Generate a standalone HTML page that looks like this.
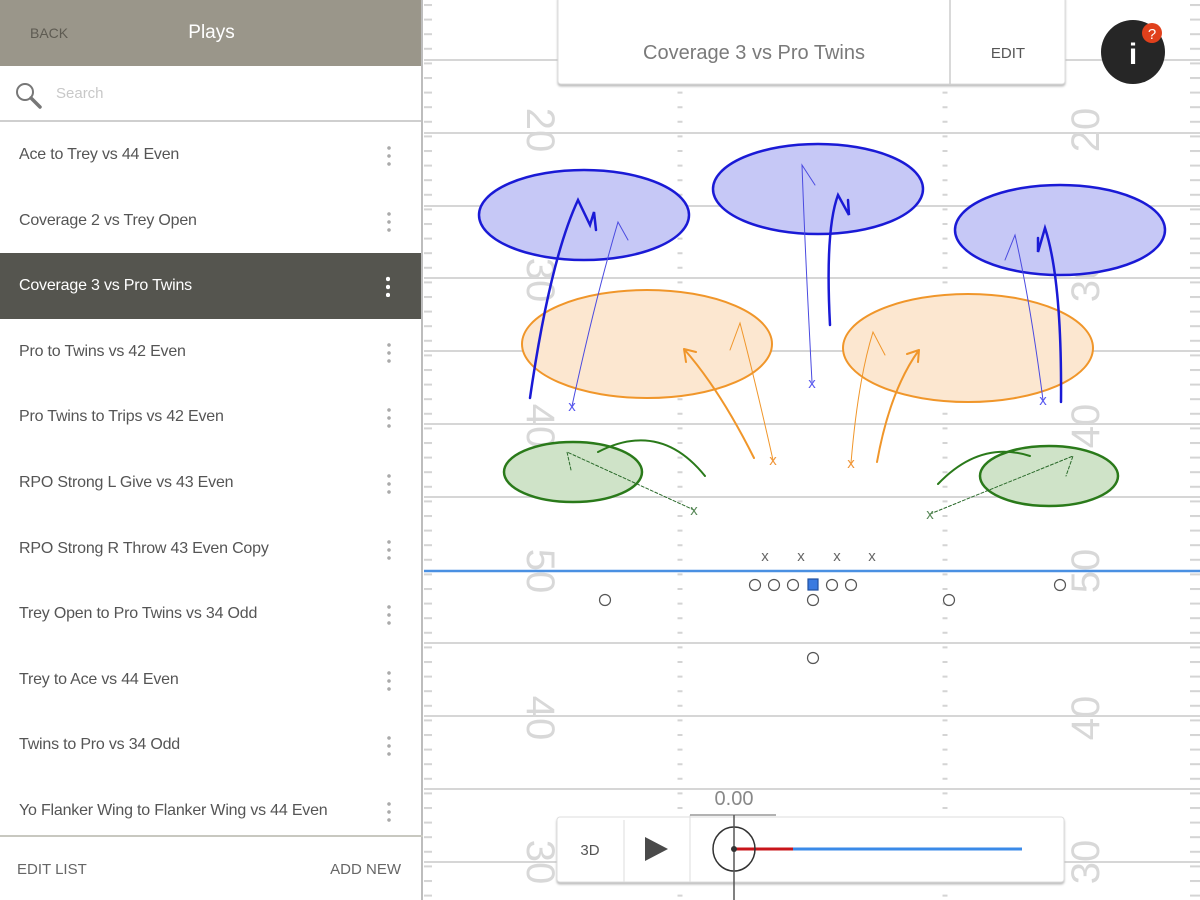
<!DOCTYPE html>
<html><head><meta charset="utf-8"><style>
*{margin:0;padding:0;box-sizing:border-box}
body{width:1200px;height:900px;overflow:hidden;background:#fff;font-family:"Liberation Sans",sans-serif;position:relative}
#side{position:absolute;left:0;top:0;width:423px;height:900px;background:#fff;border-right:2px solid #bdbdbd}
#hdr{height:66px;background:#9a968a;position:relative}
#hdr .back{position:absolute;left:30px;top:25px;font-size:14px;color:#5e5b52}
#hdr .title{position:absolute;left:0;width:423px;text-align:center;top:22px;font-size:19px;color:#fff}
#search{height:56px;border-bottom:2px solid #cfcfcf;position:relative}
#search .ph{position:absolute;left:56px;top:19px;font-size:15px;color:#c8c8c8}
.item{height:65.6px;position:relative;font-size:16px;color:#555;}
.item span{position:absolute;left:19px;top:24px;letter-spacing:-0.2px}
.item i{position:absolute;left:387px;top:22px;width:4px;height:22px;background:radial-gradient(circle,#aaa 1.6px,transparent 2px) 0 0/4px 8px repeat-y}
.item.sel{background:#55554f;color:#fff}
.item.sel i{background:radial-gradient(circle,#fff 2px,transparent 2.4px) 0 0/4px 8px repeat-y;left:386px;width:5px}
#foot{position:absolute;top:835px;left:0;width:423px;height:65px;border-top:2px solid #c8c8c0;font-size:15px;color:#666}
#foot .a{position:absolute;left:17px;top:24px}
#foot .b{position:absolute;right:22px;top:24px}
</style></head><body>
<svg style="position:absolute;left:0;top:0" width="1200" height="900">
<defs>
<pattern id="tk" width="10" height="14.6" patternUnits="userSpaceOnUse" y="4"><rect width="10" height="2" fill="#d4d4d4"/></pattern>
</defs>
<rect x="424" y="0" width="776" height="900" fill="#fff"/>
<g stroke="#d6d6d6" stroke-width="2">
<line x1="424" x2="1200" y1="60" y2="60"/><line x1="424" x2="1200" y1="133" y2="133"/><line x1="424" x2="1200" y1="206" y2="206"/><line x1="424" x2="1200" y1="278" y2="278"/><line x1="424" x2="1200" y1="351" y2="351"/><line x1="424" x2="1200" y1="424" y2="424"/><line x1="424" x2="1200" y1="497" y2="497"/><line x1="424" x2="1200" y1="643" y2="643"/><line x1="424" x2="1200" y1="716" y2="716"/><line x1="424" x2="1200" y1="789" y2="789"/><line x1="424" x2="1200" y1="862" y2="862"/>
</g>
<rect x="424" y="0" width="8" height="900" fill="url(#tk)"/>
<rect x="1190" y="0" width="10" height="900" fill="url(#tk)"/>
<line x1="680" y1="4" x2="680" y2="900" stroke="#d4d4d4" stroke-width="5" stroke-dasharray="2,12.6"/>
<line x1="945" y1="4" x2="945" y2="900" stroke="#d4d4d4" stroke-width="5" stroke-dasharray="2,12.6"/>
<line x1="424" x2="1200" y1="571" y2="571" stroke="#4a90e2" stroke-width="2.5"/>
<g font-family="Liberation Sans,sans-serif" font-size="40" fill="#d8d8d8" text-anchor="middle">
<text transform="translate(527,130) rotate(90)">20</text>
<text transform="translate(527,280) rotate(90)">30</text>
<text transform="translate(527,426) rotate(90)">40</text>
<text transform="translate(527,571) rotate(90)">50</text>
<text transform="translate(527,718) rotate(90)">40</text>
<text transform="translate(527,862) rotate(90)">30</text>
<text transform="translate(1099,130) rotate(-90)">20</text>
<text transform="translate(1099,280) rotate(-90)">30</text>
<text transform="translate(1099,426) rotate(-90)">40</text>
<text transform="translate(1099,571) rotate(-90)">50</text>
<text transform="translate(1099,718) rotate(-90)">40</text>
<text transform="translate(1099,862) rotate(-90)">30</text>
</g>
<g stroke-width="2.5">
<ellipse cx="584" cy="215" rx="105" ry="45" fill="#c6c8f6" stroke="#1a1ad6"/>
<ellipse cx="818" cy="189" rx="105" ry="45" fill="#c6c8f6" stroke="#1a1ad6"/>
<ellipse cx="1060" cy="230" rx="105" ry="45" fill="#c6c8f6" stroke="#1a1ad6"/>
<ellipse cx="647" cy="344" rx="125" ry="54" fill="#fce7d0" stroke="#f0962a" stroke-width="2"/>
<ellipse cx="968" cy="348" rx="125" ry="54" fill="#fce7d0" stroke="#f0962a" stroke-width="2"/>
<ellipse cx="573" cy="472" rx="69" ry="30" fill="#cfe3c8" stroke="#2a7a1a"/>
<ellipse cx="1049" cy="476" rx="69" ry="30" fill="#cfe3c8" stroke="#2a7a1a"/>
</g>
<g fill="none" stroke-linecap="round">
<path d="M530 398 Q550 260 578 200 L590 225 L594 212 L596 230" stroke="#1a1ad6" stroke-width="2.5"/>
<path d="M572 406 Q595 300 618 222 L628 240" stroke="#4a4ae0" stroke-width="1"/>
<path d="M812 382 Q805 250 802 165 L815 185" stroke="#4a4ae0" stroke-width="1"/>
<path d="M830 325 Q825 230 838 195 L849 215 L848 200" stroke="#1a1ad6" stroke-width="2.5"/>
<path d="M1043 400 Q1030 300 1015 235 L1005 260" stroke="#4a4ae0" stroke-width="1"/>
<path d="M1061 402 Q1062 280 1045 228 L1038 252 L1038 238" stroke="#1a1ad6" stroke-width="2.5"/>
<path d="M754 458 Q720 390 684 349 M684 349 L686 362 M684 349 L696 352" stroke="#f0962a" stroke-width="2"/>
<path d="M773 460 Q755 380 740 323 L730 350" stroke="#f0962a" stroke-width="1"/>
<path d="M851 463 Q858 380 873 332 L885 355" stroke="#f0962a" stroke-width="1"/>
<path d="M877 462 Q890 390 919 350 M919 350 L907 354 M919 350 L918 362" stroke="#f0962a" stroke-width="2"/>
<path d="M694 510 L567 452 L571 470" stroke="#2a6a2a" stroke-width="1" stroke-dasharray="3,2"/>
<path d="M598 452 Q660 420 705 476" stroke="#2a7a1a" stroke-width="2"/>
<path d="M930 514 L1073 456 L1066 476" stroke="#2a6a2a" stroke-width="1" stroke-dasharray="3,2"/>
<path d="M938 484 Q980 440 1030 456" stroke="#2a7a1a" stroke-width="2"/>
</g>
<g font-family="Liberation Sans,sans-serif" font-size="15" text-anchor="middle" fill="#5a5af0">
<text x="572" y="411">x</text><text x="812" y="388">x</text><text x="1043" y="405">x</text>
<text x="773" y="465" fill="#f0963a">x</text><text x="851" y="468" fill="#f0963a">x</text>
<text x="694" y="515" fill="#5a8a5a">x</text><text x="930" y="519" fill="#5a8a5a">x</text>
<g fill="#666"><text x="765" y="561">x</text><text x="801" y="561">x</text><text x="837" y="561">x</text><text x="872" y="561">x</text></g>
</g>
<g fill="#fff" stroke="#555" stroke-width="1.2">
<circle cx="755" cy="585" r="5.5"/><circle cx="774" cy="585" r="5.5"/><circle cx="793" cy="585" r="5.5"/><circle cx="832" cy="585" r="5.5"/><circle cx="851" cy="585" r="5.5"/><circle cx="1060" cy="585" r="5.5"/>
<circle cx="605" cy="600" r="5.5"/><circle cx="813" cy="600" r="5.5"/><circle cx="949" cy="600" r="5.5"/><circle cx="813" cy="658" r="5.5"/>
<rect x="808" y="579" width="10" height="11" fill="#3a7ae0" stroke="#2050a0"/>
</g>
<rect x="558" y="-5" width="507" height="89" rx="3" fill="#fff" stroke="#ddd" style="filter:drop-shadow(0 2px 1px #bbb)"/>
<line x1="950" y1="0" x2="950" y2="84" stroke="#ccc" stroke-width="1.5"/>
<text x="754" y="59" text-anchor="middle" font-family="Liberation Sans,sans-serif" font-size="20" fill="#7a7a7a">Coverage 3 vs Pro Twins</text>
<text x="1008" y="58" text-anchor="middle" font-family="Liberation Sans,sans-serif" font-size="15" fill="#555">EDIT</text>
<circle cx="1133" cy="52" r="32" fill="#262626"/>
<text x="1133" y="64" text-anchor="middle" font-family="Liberation Sans,sans-serif" font-size="30" font-weight="bold" fill="#fff">i</text>
<circle cx="1152" cy="33" r="10" fill="#e0401c"/>
<text x="1152" y="39" text-anchor="middle" font-family="Liberation Sans,sans-serif" font-size="15" fill="#fff">?</text>
<rect x="557" y="817" width="507" height="65" rx="3" fill="#fff" stroke="#ddd" style="filter:drop-shadow(0 2px 1px #bbb)"/>
<line x1="624" y1="820" x2="624" y2="882" stroke="#ddd"/>
<line x1="690" y1="815" x2="690" y2="882" stroke="#ddd"/>
<line x1="690" y1="815" x2="776" y2="815" stroke="#999" stroke-width="1.5"/>
<rect x="690" y="790" width="86" height="24" fill="#fff"/>
<text x="734" y="805" text-anchor="middle" font-family="Liberation Sans,sans-serif" font-size="20" fill="#888">0.00</text>
<text x="590" y="855" text-anchor="middle" font-family="Liberation Sans,sans-serif" font-size="15" fill="#555">3D</text>
<path d="M645 837 L668 849 L645 861 Z" fill="#4a4a4a"/>
<line x1="734" y1="849" x2="793" y2="849" stroke="#c8141a" stroke-width="3"/>
<line x1="793" y1="849" x2="1022" y2="849" stroke="#3a8ae8" stroke-width="3"/>
<ellipse cx="734" cy="849" rx="21" ry="22" fill="none" stroke="#333" stroke-width="1.5"/>
<line x1="734" y1="815" x2="734" y2="900" stroke="#555" stroke-width="1.5"/>
<circle cx="734" cy="849" r="3" fill="#333"/>
</svg>
<div id="side">
<div id="hdr"><span class="back">BACK</span><div class="title">Plays</div></div>
<div id="search">
<svg style="position:absolute;left:14px;top:15px" width="30" height="30"><circle cx="11" cy="11" r="8" fill="none" stroke="#777" stroke-width="2"/><line x1="17" y1="17" x2="26" y2="26" stroke="#777" stroke-width="3.5" stroke-linecap="round"/></svg>
<span class="ph">Search</span></div>
<div class="item"><span>Ace to Trey vs 44 Even</span><i></i></div>
<div class="item"><span>Coverage 2 vs Trey Open</span><i></i></div>
<div class="item sel"><span>Coverage 3 vs Pro Twins</span><i></i></div>
<div class="item"><span>Pro to Twins vs 42 Even</span><i></i></div>
<div class="item"><span>Pro Twins to Trips vs 42 Even</span><i></i></div>
<div class="item"><span>RPO Strong L Give vs 43 Even</span><i></i></div>
<div class="item"><span>RPO Strong R Throw 43 Even Copy</span><i></i></div>
<div class="item"><span>Trey Open to Pro Twins vs 34 Odd</span><i></i></div>
<div class="item"><span>Trey to Ace vs 44 Even</span><i></i></div>
<div class="item"><span>Twins to Pro vs 34 Odd</span><i></i></div>
<div class="item"><span>Yo Flanker Wing to Flanker Wing vs 44 Even</span><i></i></div>
<div id="foot"><span class="a">EDIT LIST</span><span class="b">ADD NEW</span></div>
</div>
</body></html>
